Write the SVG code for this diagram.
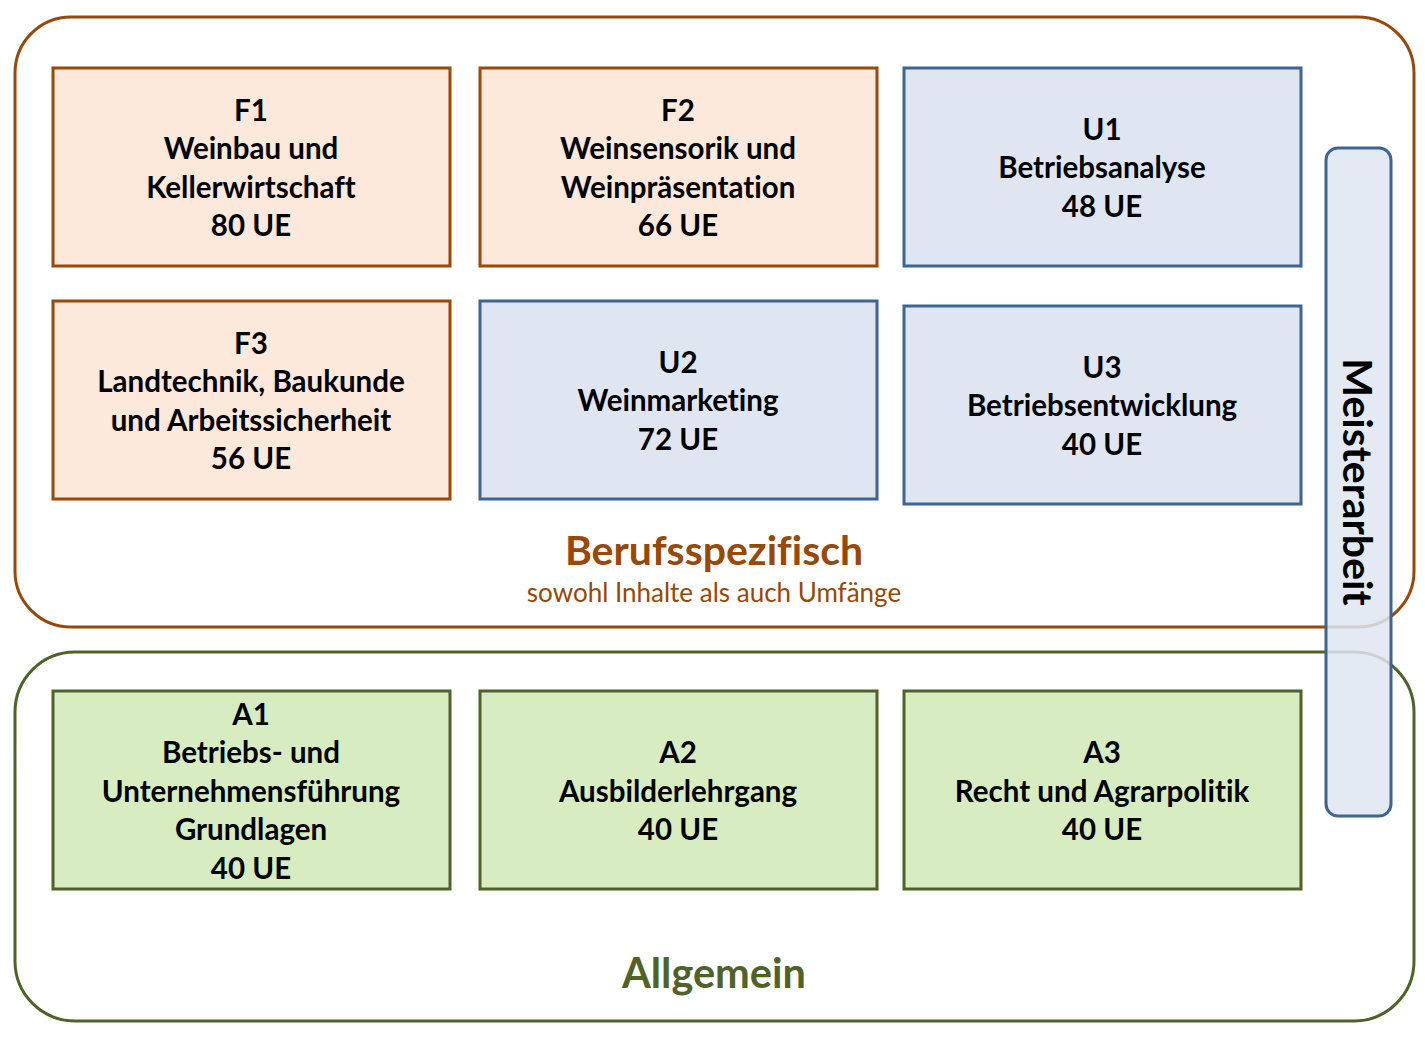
<svg xmlns="http://www.w3.org/2000/svg" width="1425" height="1037" viewBox="0 0 1425 1037">
<style>
text{font-family:Lato,"Open Sans","Liberation Sans",sans-serif;font-variant-ligatures:none;font-feature-settings:"liga" 0,"clig" 0}
.t{font-weight:bold;font-size:29.5px;fill:#000;text-anchor:middle}
.f{fill:#fce9db;stroke:#984807;stroke-width:3}
.u{fill:#dfe6f1;stroke:#3c6494;stroke-width:3}
.a{fill:#d8ecc1;stroke:#4f6228;stroke-width:3}
</style>
<rect width="1425" height="1037" fill="#fff"/>
<g id="berufsspezifisch">
<rect x="15" y="17" width="1399" height="610" rx="56" ry="56" fill="none" stroke="#984807" stroke-width="3"/>
<text x="714" y="565" font-weight="bold" font-size="41" fill="#984807" text-anchor="middle">Berufsspezifisch</text>
<text x="714" y="602" font-size="26" fill="#984807" text-anchor="middle">sowohl Inhalte als auch Umfänge</text>
</g>
<g id="allgemein">
<rect x="15" y="652" width="1399" height="369" rx="60" ry="60" fill="none" stroke="#4f6228" stroke-width="3"/>
<text x="714" y="988" font-weight="bold" font-size="41.5" fill="#4f6228" text-anchor="middle">Allgemein</text>
</g>
<g id="F1"><rect class="f" x="53" y="68" width="397" height="198"/>
<text class="t" x="251" y="121">F1</text><text class="t" x="251" y="159">Weinbau und</text><text class="t" x="251" y="198">Kellerwirtschaft</text><text class="t" x="251" y="236">80 UE</text></g>
<g id="F2"><rect class="f" x="480" y="68" width="397" height="198"/>
<text class="t" x="678" y="121">F2</text><text class="t" x="678" y="159">Weinsensorik und</text><text class="t" x="678" y="198">Weinpräsentation</text><text class="t" x="678" y="236">66 UE</text></g>
<g id="U1"><rect class="u" x="904" y="68" width="397" height="198"/>
<text class="t" x="1102" y="140">U1</text><text class="t" x="1102" y="178">Betriebsanalyse</text><text class="t" x="1102" y="217">48 UE</text></g>
<g id="F3"><rect class="f" x="53" y="301" width="397" height="198"/>
<text class="t" x="251" y="354">F3</text><text class="t" x="251" y="392">Landtechnik, Baukunde</text><text class="t" x="251" y="431">und Arbeitssicherheit</text><text class="t" x="251" y="469">56 UE</text></g>
<g id="U2"><rect class="u" x="480" y="301" width="397" height="198"/>
<text class="t" x="678" y="373">U2</text><text class="t" x="678" y="411">Weinmarketing</text><text class="t" x="678" y="450">72 UE</text></g>
<g id="U3"><rect class="u" x="904" y="306" width="397" height="198"/>
<text class="t" x="1102" y="378">U3</text><text class="t" x="1102" y="416">Betriebsentwicklung</text><text class="t" x="1102" y="455">40 UE</text></g>
<g id="A1"><rect class="a" x="53" y="691" width="397" height="198"/>
<text class="t" x="251" y="725">A1</text><text class="t" x="251" y="763">Betriebs- und</text><text class="t" x="251" y="802">Unternehmensführung</text><text class="t" x="251" y="840">Grundlagen</text><text class="t" x="251" y="879">40 UE</text></g>
<g id="A2"><rect class="a" x="480" y="691" width="397" height="198"/>
<text class="t" x="678" y="763">A2</text><text class="t" x="678" y="802">Ausbilderlehrgang</text><text class="t" x="678" y="840">40 UE</text></g>
<g id="A3"><rect class="a" x="904" y="691" width="397" height="198"/>
<text class="t" x="1102" y="763">A3</text><text class="t" x="1102" y="802">Recht und Agrarpolitik</text><text class="t" x="1102" y="840">40 UE</text></g>
<g id="meisterarbeit">
<rect x="1326" y="148" width="65" height="668" rx="12" ry="12" fill="#dfe6f1" fill-opacity="0.85" stroke="#3c6494" stroke-width="3"/>
<text transform="translate(1343,482) rotate(90)" font-weight="bold" font-size="41" fill="#000" text-anchor="middle">Meisterarbeit</text>
</g>
<g id="connectors"></g>
</svg>
